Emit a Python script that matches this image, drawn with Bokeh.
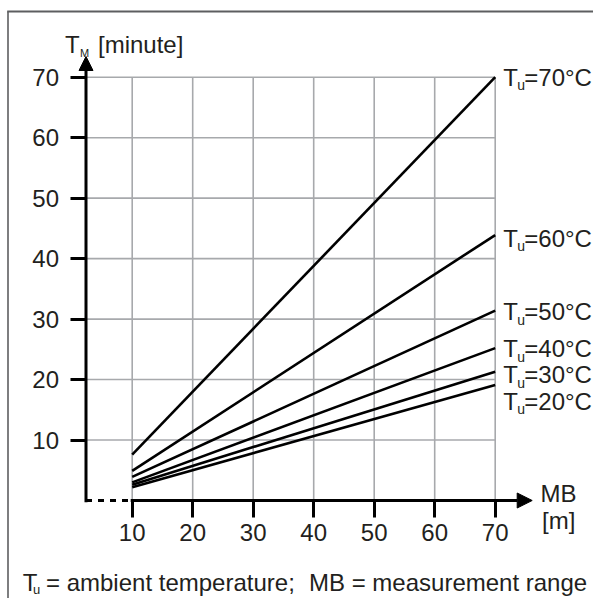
from bokeh.plotting import figure
from bokeh.models import Range1d, FixedTicker, Label, Arrow, NormalHead, ColumnDataSource
from bokeh.core.properties import value
from bokeh.embed import file_html
from bokeh.resources import INLINE

# ---------------- data ----------------
mb = [10, 70]                                   # measurement range [m]
temps = ["70", "60", "50", "40", "30", "20"]    # ambient temperature T_u [°C]
tm_at_10 = [7.6, 4.9, 3.9, 3.0, 2.6, 2.2]       # T_M [minute] at MB = 10 m
tm_at_70 = [70.0, 43.9, 31.4, 25.2, 21.3, 19.1] # T_M [minute] at MB = 70 m
x_ticks = [10, 20, 30, 40, 50, 60, 70]
y_ticks = [10, 20, 30, 40, 50, 60, 70]

# ---------------- layout / style ----------------
FONT = "Liberation Sans"
TXT = "#231f20"
GRID = "#a7a9ac"
FS = "24px"
W, H = 593, 598
SX, SY = 6.05, 6.047            # pixels per data unit
X_LEFT = 10 - 131.7 / SX        # data x at the canvas' left edge
Y_TOP = 500.0 / SY              # data y at the canvas' top edge


def dx(px):
    return X_LEFT + px / SX


def dy(py):
    return Y_TOP - py / SY


AXIS_X = dx(85.5)               # position of the (broken) vertical axis
label_dy = [0, 3.3, 1, 0.7, 3.3, 16]   # pixel nudges of the curve labels

p = figure(width=W, height=H,
           x_range=Range1d(dx(0), dx(W)),
           y_range=Range1d(dy(H), dy(0)),
           output_backend="svg", toolbar_location=None,
           min_border_left=0, min_border_bottom=0,
           min_border_top=0, min_border_right=0)
p.outline_line_color = None
p.xgrid.grid_line_color = None
p.ygrid.grid_line_color = None
p.background_fill_color = "white"
p.border_fill_color = "white"

p.xaxis.fixed_location = 0
p.yaxis.fixed_location = AXIS_X
for ax, ticks in ((p.xaxis[0], x_ticks), (p.yaxis[0], y_ticks)):
    ax.ticker = FixedTicker(ticks=ticks)
    ax.axis_line_color = None
    ax.major_tick_line_color = "black"
    ax.major_tick_line_width = 3
    ax.major_tick_in = 0
    ax.minor_tick_line_color = None
    ax.major_label_text_font = FONT
    ax.major_label_text_font_size = FS
    ax.major_label_text_color = TXT
p.xaxis.major_tick_out = 17
p.yaxis.major_tick_out = 16
p.xaxis.major_label_standoff = 6
p.yaxis.major_label_standoff = 11

# outer frame of the figure
p.line([dx(7.5), dx(7.5)], [dy(H), dy(11)], line_color="#5d5e60", line_width=1.6)
p.line([dx(6.7), dx(W)], [dy(11), dy(11)], line_color="#5d5e60", line_width=2)

# grid (bounded to the data area)
p.segment(x0=x_ticks, y0=[0] * len(x_ticks), x1=x_ticks, y1=[70] * len(x_ticks),
          line_color=GRID, line_width=1.6)
p.segment(x0=[AXIS_X] * len(y_ticks), y0=y_ticks, x1=[70] * len(y_ticks), y1=y_ticks,
          line_color=GRID, line_width=1.6)

# curves
src = ColumnDataSource(dict(
    xs=[mb for _ in temps],
    ys=[[a, b] for a, b in zip(tm_at_10, tm_at_70)],
))
p.multi_line(xs="xs", ys="ys", source=src, line_color="black", line_width=2.6)

# axis lines with arrows
p.line([AXIS_X, 10], [0, 0], line_color="black", line_width=3, line_dash="6 6")
p.add_layout(Arrow(end=NormalHead(size=15, fill_color="black", line_color="black"),
                   x_start=10 - 0.25, y_start=0, x_end=dx(531.7), y_end=0,
                   line_color="black", line_width=3))
p.add_layout(Arrow(end=NormalHead(size=14, fill_color="black", line_color="black"),
                   x_start=AXIS_X, y_start=dy(501.7), x_end=AXIS_X, y_end=dy(56),
                   line_color="black", line_width=3))

# curve labels  T_u=..°C
lab = ColumnDataSource(dict(
    x=[mb[-1]] * len(temps), y=tm_at_70,
    dy=label_dy, dys=[d + 8 for d in label_dy],
    t=["T"] * len(temps), u=["u"] * len(temps),
    rest=["=" + t + "°C" for t in temps],
))
common = dict(source=lab, text_font=value(FONT), text_color=TXT,
              text_baseline="alphabetic", text_align="left")
p.text(x="x", y="y", text="t", x_offset=8.1, y_offset="dy",
       text_font_size=FS, **common)
p.text(x="x", y="y", text="u", x_offset=22, y_offset="dys",
       text_font_size="14px", **common)
p.text(x="x", y="y", text="rest", x_offset=29.1, y_offset="dy",
       text_font_size=FS, **common)


# axis titles and caption
def lbl(text, sx, sy, size):
    p.add_layout(Label(x=dx(sx), y=dy(sy), text=text, text_font=FONT,
                       text_font_size=size, text_color=TXT,
                       text_baseline="alphabetic", text_align="left"))


lbl("T", 64.5, 44, FS)
lbl("M", 79.5, 52, "11px")
lbl("[minute]", 97.5, 44, FS)
lbl("MB", 540, 493.3, FS)
lbl("[m]", 541.5, 520, FS)
lbl("T", 22.2, 582, FS)
lbl("u", 32.5, 589, "13px")
lbl("= ambient temperature;", 45.5, 582, FS)
lbl("MB = measurement range", 308.5, 582, FS)

open("out.html", "w").write(file_html(p, INLINE))
